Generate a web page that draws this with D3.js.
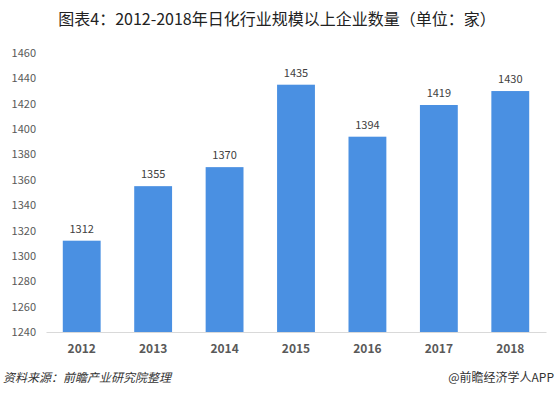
<!DOCTYPE html>
<html>
<head>
<meta charset="utf-8">
<script src="https://cdn.jsdelivr.net/npm/d3@7"></script>
<style>
  body { margin: 0; background: #fff; }
  text { font-family: "Microsoft YaHei", "Noto Sans CJK SC", "Open Sans", sans-serif; }
</style>
</head>
<body>
<div id="chart"></div>
<script>
// Data
var years = ["2012", "2013", "2014", "2015", "2016", "2017", "2018"];
var counts = [1312, 1355, 1370, 1435, 1394, 1419, 1430];
var yTicks = [1240, 1260, 1280, 1300, 1320, 1340, 1360, 1380, 1400, 1420, 1440, 1460];

var svgWidth = 555;
var svgHeight = 396;
var margin = { top: 53, right: 9, bottom: 64, left: 46 };
var chartWidth = svgWidth - margin.left - margin.right;
var chartHeight = svgHeight - margin.top - margin.bottom;

var svg = d3.select("#chart").append("svg")
  .attr("width", svgWidth)
  .attr("height", svgHeight);

// Title
svg.append("text")
  .attr("x", 277)
  .attr("y", 25)
  .attr("text-anchor", "middle")
  .attr("font-size", 16)
  .attr("font-weight", 400)
  .attr("fill", "#222")
  .text("图表4：2012-2018年日化行业规模以上企业数量（单位：家）");

var chartGroup = svg.append("g")
  .attr("transform", `translate(${margin.left}, ${margin.top})`);

var xScale = d3.scaleBand()
  .domain(years)
  .range([0, chartWidth])
  .paddingInner(0.47)
  .paddingOuter(0.235);

var yScale = d3.scaleLinear()
  .domain([1240, 1460])
  .range([chartHeight, 0]);

// Y axis labels
var leftAxis = d3.axisLeft(yScale).tickValues(yTicks).tickFormat(d3.format("d")).tickSize(0).tickPadding(10);
var yAxis = chartGroup.append("g").call(leftAxis);
yAxis.select(".domain").remove();
yAxis.selectAll("text")
  .attr("font-size", 11)
  .attr("fill", "#595959");

// Bars
chartGroup.selectAll("rect.bar")
  .data(counts)
  .enter()
  .append("rect")
  .attr("class", "bar")
  .attr("x", (d, i) => xScale(years[i]))
  .attr("y", d => yScale(d))
  .attr("width", xScale.bandwidth())
  .attr("height", d => chartHeight - yScale(d))
  .attr("fill", "#4a90e2");

// Value labels
chartGroup.selectAll("text.val")
  .data(counts)
  .enter()
  .append("text")
  .attr("class", "val")
  .attr("x", (d, i) => xScale(years[i]) + xScale.bandwidth() / 2)
  .attr("y", d => yScale(d) - 8)
  .attr("text-anchor", "middle")
  .attr("font-size", 11)
  .attr("fill", "#404040")
  .text(d => d);

// X axis
var bottomAxis = d3.axisBottom(xScale).tickSize(0).tickPadding(12);
var xAxis = chartGroup.append("g")
  .attr("transform", `translate(0, ${chartHeight})`)
  .call(bottomAxis);
xAxis.select(".domain").attr("stroke", "#d9d9d9");
xAxis.selectAll("text")
  .attr("font-size", 12)
  .attr("font-weight", "bold")
  .attr("fill", "#595959");

// Footer
svg.append("text")
  .attr("x", 3)
  .attr("y", 382)
  .attr("font-size", 12)
  .attr("font-style", "italic")
  .attr("fill", "#333")
  .text("资料来源：前瞻产业研究院整理");

svg.append("text")
  .attr("x", 554)
  .attr("y", 382)
  .attr("text-anchor", "end")
  .attr("font-size", 12)
  .attr("fill", "#333")
  .text("@前瞻经济学人APP");
</script>
</body>
</html>
